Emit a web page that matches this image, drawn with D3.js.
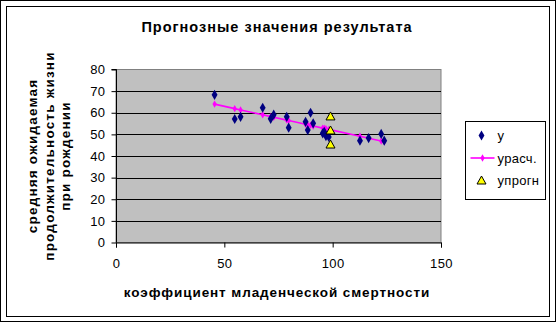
<!DOCTYPE html>
<html>
<head>
<meta charset="utf-8">
<script src="https://cdn.jsdelivr.net/npm/d3@7"></script>
<style>
  html, body { margin: 0; padding: 0; background: #fff; }
  svg { display: block; }
  text { font-family: "Liberation Sans", Arial, sans-serif; fill: #000; }
</style>
</head>
<body>
<svg id="chart" width="557" height="323"></svg>
<script>
// Infant mortality rate (x) and life expectancy at birth (y)
const xObs = [45.5, 54.8, 57.5, 67.7, 71.4, 72.8, 78.8, 79.7, 87.5, 88.5,
              89.8, 91.0, 95.4, 96.1, 96.9, 98.2, 112.6, 116.6, 122.4, 123.8];
const yObs = [68.3, 57.1, 58.1, 62.3, 57.2, 59.1, 58.1, 53.1, 55.8, 52.0,
              60.0, 55.1, 50.5, 51.2, 49.2, 48.8, 47.1, 48.3, 50.2, 47.1];
// Fitted values (урасч.)
const yCalc = [64.0, 61.9, 61.3, 59.1, 58.2, 57.9, 56.6, 56.4, 54.7, 54.5,
               54.2, 53.9, 52.9, 52.8, 52.6, 52.3, 49.1, 48.2, 46.9, 46.6];
// Forecast point with its interval bounds (упрогн)
const xForecast = [99, 99, 99];
const yForecast = [58.3, 51.8, 45.3];

const xTicks = [0, 50, 100, 150];
const yTicks = [0, 10, 20, 30, 40, 50, 60, 70, 80];
const legendLabels = ["у", "урасч.", "упрогн"];

const svg = d3.select("#chart");
const font = "'Liberation Sans', Arial, sans-serif";

// double frame
svg.append("rect").attr("x", 0.5).attr("y", 0.5).attr("width", 555).attr("height", 321)
  .attr("fill", "#fff").attr("stroke", "#000");
svg.append("rect").attr("x", 6.5).attr("y", 6.5).attr("width", 543).attr("height", 310)
  .attr("fill", "#fff").attr("stroke", "#000");

const plot = { left: 116, right: 441, top: 69.5, bottom: 242.5 };
const x = d3.scaleLinear().domain([0, 150]).range([plot.left, plot.right]);
const y = d3.scaleLinear().domain([0, 80]).range([plot.bottom, plot.top]);

// plot area
svg.append("rect")
  .attr("x", plot.left).attr("y", plot.top)
  .attr("width", plot.right - plot.left).attr("height", plot.bottom - plot.top)
  .attr("fill", "#C0C0C0").attr("stroke", "#808080");

// horizontal gridlines
svg.append("g").selectAll("line")
  .data(yTicks.filter(t => t > 0 && t < 80))
  .join("line")
  .attr("x1", plot.left).attr("x2", plot.right)
  .attr("y1", d => Math.round(y(d)) + 0.5).attr("y2", d => Math.round(y(d)) + 0.5)
  .attr("stroke", "#000");

// axes
const yAxis = d3.axisLeft(y).tickValues(yTicks).tickSize(5).tickPadding(6).tickFormat(d3.format("d"));
const gy = svg.append("g").attr("transform", `translate(${plot.left + 0.5},0)`).call(yAxis);
const xAxis = d3.axisBottom(x).tickValues(xTicks).tickSize(5).tickPadding(11).tickFormat(d3.format("d"));
const gx = svg.append("g").attr("transform", `translate(0,${plot.bottom})`).call(xAxis);
[gx, gy].forEach(g => {
  g.select(".domain").attr("stroke", "#000");
  g.selectAll(".tick line").attr("stroke", "#000");
  g.selectAll(".tick text").attr("font-family", font).attr("font-size", 13).attr("fill", "#000")
    .attr("letter-spacing", 0.4);
});
gy.select(".domain").attr("d", `M-5,${plot.top}H0V${plot.bottom}`);

// fitted line
const calcPts = xObs.map((v, i) => [v, yCalc[i]]);
svg.append("path")
  .datum(calcPts)
  .attr("d", d3.line().x(d => x(d[0])).y(d => y(d[1])))
  .attr("fill", "none").attr("stroke", "#FF00FF").attr("stroke-width", 1.6);
svg.append("g").selectAll("path")
  .data(calcPts).join("path")
  .attr("transform", d => `translate(${x(d[0])},${y(d[1])})`)
  .attr("d", d3.symbol(d3.symbolDiamond, 16)())
  .attr("fill", "#FF00FF");

// observed points
svg.append("g").selectAll("path")
  .data(xObs.map((v, i) => [v, yObs[i]])).join("path")
  .attr("transform", d => `translate(${x(d[0])},${y(d[1])})`)
  .attr("d", d3.symbol(d3.symbolDiamond, 30)())
  .attr("fill", "#000080");

// forecast points
const tri = "M0,-4.5L4.5,3.5L-4.5,3.5Z";
svg.append("g").selectAll("path")
  .data(xForecast.map((v, i) => [v, yForecast[i]])).join("path")
  .attr("transform", d => `translate(${x(d[0])},${y(d[1])})`)
  .attr("d", tri)
  .attr("fill", "#FFFF00").attr("stroke", "#000").attr("stroke-width", 1);

// titles
svg.append("text").attr("x", 277).attr("y", 32).attr("text-anchor", "middle")
  .attr("font-weight", "bold").attr("font-size", 14.5).attr("letter-spacing", 1)
  .text("Прогнозные значения результата");
svg.append("text").attr("x", 277).attr("y", 297).attr("text-anchor", "middle")
  .attr("font-weight", "bold").attr("font-size", 13.5).attr("letter-spacing", 0.9)
  .text("коэффициент младенческой смертности");
const yTitle = svg.append("text")
  .attr("transform", "translate(37,156) rotate(-90)")
  .attr("text-anchor", "middle").attr("font-weight", "bold").attr("font-size", 13.5)
  .attr("letter-spacing", 1.2);
["средняя ожидаемая", "продолжительность жизни", "при рождении"].forEach((t, i) => {
  yTitle.append("tspan").attr("x", 0).attr("dy", i === 0 ? 0 : 16.5).text(t);
});

// legend
const lg = svg.append("g").attr("transform", "translate(465.5,121.5)");
lg.append("rect").attr("width", 80).attr("height", 78).attr("fill", "#fff").attr("stroke", "#000");
const rows = [14, 36.5, 59];
lg.append("path").attr("transform", `translate(16,${rows[0]})`)
  .attr("d", d3.symbol(d3.symbolDiamond, 30)()).attr("fill", "#000080");
lg.append("line").attr("x1", 5).attr("x2", 29).attr("y1", rows[1]).attr("y2", rows[1])
  .attr("stroke", "#FF00FF").attr("stroke-width", 1.6);
lg.append("path").attr("transform", `translate(17,${rows[1]})`)
  .attr("d", d3.symbol(d3.symbolDiamond, 16)()).attr("fill", "#FF00FF");
lg.append("path").attr("transform", `translate(16,${rows[2]})`)
  .attr("d", tri).attr("fill", "#FFFF00").attr("stroke", "#000");
lg.selectAll("text.lab").data(legendLabels).join("text")
  .attr("class", "lab").attr("x", 32).attr("y", (d, i) => rows[i] + 4.5)
  .attr("font-size", 13).attr("letter-spacing", 0.3).text(d => d);
</script>
</body>
</html>
